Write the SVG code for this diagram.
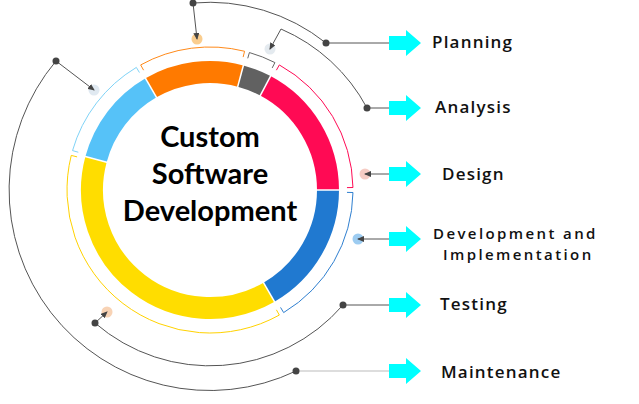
<svg xmlns="http://www.w3.org/2000/svg" width="639" height="404" viewBox="0 0 639 404">
<style>
.seg{fill:none;stroke-width:22}
.sep{stroke:#fff;stroke-width:1.5}
.br{fill:none;stroke-width:1}
.con{fill:none;stroke:#555;stroke-width:1}
.dot{fill:#444}
.lbl{font-family:"Open Sans","Liberation Sans",sans-serif;font-weight:600;font-size:17px;letter-spacing:1.2px;fill:#111}
.lbl2{font-size:15px;letter-spacing:2.4px}
.ctr{font-family:Lato,"Liberation Sans",sans-serif;font-weight:700;font-size:29px;fill:#000;text-anchor:middle}
.arr{fill:#00ffff}
.mk{opacity:0.85}
</style>
<defs>
<path id="bigarrow" d="M0,-7 H17 V-13 L32,0 L17,13 V7 H0 Z"/>
<marker id="ah" markerUnits="userSpaceOnUse" markerWidth="7" markerHeight="6" refX="6" refY="3" orient="auto">
<path d="M0,0 L7,3 L0,6 Z" fill="#444"/>
</marker>
</defs>
<rect width="639" height="404" fill="#fff"/>

<g id="ring">
<path class="seg" stroke="#2079d0" d="M328,190 A118,118 0 0 1 269,292.19"/>
<path class="seg" stroke="#ffdd00" d="M269,292.19 A118,118 0 0 1 96.02,159.46"/>
<path class="seg" stroke="#56c2f8" d="M96.02,159.46 A118,118 0 0 1 151,87.81"/>
<path class="seg" stroke="#ff7a00" d="M151,87.81 A118,118 0 0 1 240.54,76.02"/>
<path class="seg" stroke="#616161" d="M240.54,76.02 A118,118 0 0 1 265.40,85.82"/>
<path class="seg" stroke="#ff0a54" d="M265.40,85.82 A118,118 0 0 1 328,190"/>
<line class="sep" x1="315" y1="190" x2="341" y2="190"/>
<line class="sep" x1="262.5" y1="280.93" x2="275.5" y2="303.45"/>
<line class="sep" x1="108.58" y1="162.82" x2="83.46" y2="156.09"/>
<line class="sep" x1="157.5" y1="99.07" x2="144.5" y2="76.55"/>
<line class="sep" x1="237.18" y1="88.58" x2="243.90" y2="63.47"/>
<line class="sep" x1="259.30" y1="97.30" x2="271.50" y2="74.34"/>
</g>

<g id="brackets">
<path class="br" stroke="#2f7fd0" d="M346.98,192.39 L352.98,192.50 A143,143 0 0 1 283.65,312.58 L280.56,307.43"/>
<path class="br" stroke="#ffd200" d="M276.42,309.82 L279.33,315.07 A143,143 0 0 1 71.25,155.41 L77.07,156.86"/>
<path class="br" stroke="#7fd3f7" d="M78.31,152.24 L72.54,150.58 A143,143 0 0 1 136.35,67.42 L139.44,72.57"/>
<path class="br" stroke="#ff8a1a" d="M143.58,70.18 L140.67,64.93 A143,143 0 0 1 244.59,51.25 L243.14,57.07"/>
<path class="br" stroke="#666" d="M247.76,58.31 L249.42,52.54 A143,143 0 0 1 274.92,62.59 L272.20,67.93"/>
<path class="br" stroke="#ff0a54" d="M276.42,70.18 L279.33,64.93 A143,143 0 0 1 352.98,187.50 L346.98,187.61"/>
</g>

<g id="center">
<text class="ctr" x="210" y="147">Custom</text>
<text class="ctr" x="210" y="184">Software</text>
<text class="ctr" x="210" y="221">Development</text>
</g>

<g id="planning">
<circle class="mk" cx="197" cy="39" r="5.5" fill="#f9c47a"/>
<use href="#bigarrow" class="arr" x="389" y="43"/>
<text class="lbl" x="432" y="48">Planning</text>
</g>
<g id="analysis">
<circle class="mk" cx="270" cy="49" r="5.5" fill="#dfe6ec"/>
<use href="#bigarrow" class="arr" x="389" y="108"/>
<text class="lbl" x="435" y="113">Analysis</text>
</g>
<g id="design">
<circle class="mk" cx="365" cy="174" r="5.5" fill="#f4c3ba"/>
<use href="#bigarrow" class="arr" x="389" y="174"/>
<text class="lbl" x="442" y="180">Design</text>
</g>
<g id="development">
<circle class="mk" cx="358" cy="239" r="5.5" fill="#8cc3ee"/>
<use href="#bigarrow" class="arr" x="389" y="239"/>
<text class="lbl lbl2" x="433" y="239">Development and</text>
<text class="lbl lbl2" x="443" y="260">Implementation</text>
</g>
<g id="testing">
<circle class="mk" cx="107" cy="312" r="5.5" fill="#f7cba8"/>
<use href="#bigarrow" class="arr" x="389" y="305"/>
<text class="lbl" x="440" y="310">Testing</text>
</g>
<g id="maintenance">
<circle class="mk" cx="94" cy="90" r="5.5" fill="#dbe5ee"/>
<use href="#bigarrow" class="arr" x="389" y="371"/>
<text class="lbl" x="441" y="378">Maintenance</text>
</g>

<g id="connectors">
<path class="con" d="M193,3 A187.5,187.5 0 0 1 326,43 L389,43"/>
<line class="con" x1="193" y1="3" x2="197" y2="39" marker-end="url(#ah)"/>
<path class="con" d="M281,29 A176.5,176.5 0 0 1 367,108 L389,108"/>
<line class="con" x1="281" y1="29" x2="270" y2="49" marker-end="url(#ah)"/>
<line class="con" x1="389" y1="174" x2="365" y2="174" marker-end="url(#ah)"/>
<line class="con" x1="389" y1="239" x2="358" y2="239" marker-end="url(#ah)"/>
<path class="con" d="M389,305 L343,305 A175.8,175.8 0 0 1 95,323"/>
<line class="con" x1="95" y1="323" x2="107" y2="312" marker-end="url(#ah)"/>
<path class="con" d="M296,371 A200.6,200.6 0 0 1 56,61"/>
<line class="con" style="stroke:#bbb" x1="296" y1="371" x2="389" y2="371"/>
<line class="con" x1="56" y1="61" x2="94" y2="90" marker-end="url(#ah)"/>
<circle class="dot" cx="193" cy="3" r="3.5"/>
<circle class="dot" cx="326" cy="43" r="3.5"/>
<circle class="dot" cx="367" cy="108" r="3.5"/>
<circle class="dot" cx="343" cy="305" r="3.5"/>
<circle class="dot" cx="95" cy="323" r="3.5"/>
<circle class="dot" cx="296" cy="371" r="3.5"/>
<circle class="dot" cx="56" cy="61" r="3.5"/>
</g>
</svg>
